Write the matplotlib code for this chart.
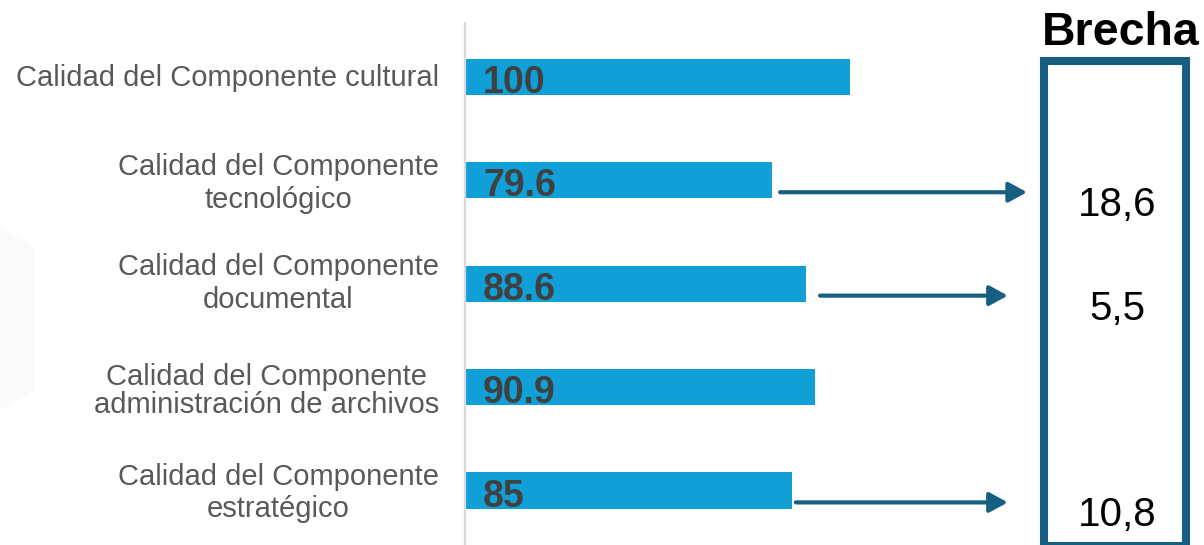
import matplotlib
matplotlib.use("Agg")
import matplotlib.pyplot as plt
from matplotlib.patches import Rectangle, Polygon

plt.rcParams['font.family'] = ['Liberation Sans', 'DejaVu Sans']

# ---- data ----
categories = [
    "Calidad del Componente cultural",
    "Calidad del Componente\ntecnológico",
    "Calidad del Componente\ndocumental",
    "Calidad del Componente\nadministración de archivos",
    "Calidad del Componente\nestratégico",
]
values = [100, 79.6, 88.6, 90.9, 85]
value_labels = ["100", "79.6", "88.6", "90.9", "85"]
gap_title = "Brecha"
gap_index = [1, 2, 4]
gap_labels = ["18,6", "5,5", "10,8"]
gap_arrow_end = [146.1, 141.1, 141.1]

# ---- layout / styles ----
BAR_C = "#109fd6"
DARK = "#175f82"
W, H = 1204, 545
label_right_px = 439
label_baseline_px = [86, 175, 275, 385, 485]
label_line_gap_px = [33, 33, 33, 28, 32]

fig = plt.figure(figsize=(W / 100, H / 100), dpi=100)
fig.patch.set_facecolor("white")

# faint watermark shape
fig.patches.append(Polygon([(0 / W, 1 - 228 / H), (33 / W, 1 - 245 / H), (33 / W, 1 - 390 / H),
                            (0 / W, 1 - 410 / H)], closed=True, transform=fig.transFigure,
                           facecolor="#fafafa", edgecolor="none", zorder=0))

ax_left, ax_top, ax_bottom = 466, 23, 545
px_per_unit = 3.84
ax = fig.add_axes([ax_left / W, 1 - ax_bottom / H, (W - ax_left) / W, (ax_bottom - ax_top) / H])
ax.set_facecolor("none")
ax.set_xlim(0, (W - ax_left) / px_per_unit)
ax.set_ylim(4.527, -0.522)

ypos = list(range(len(values)))
ax.barh(ypos, values, height=0.35, color=BAR_C, zorder=2)

for spine in ["top", "right", "bottom"]:
    ax.spines[spine].set_visible(False)
ax.spines["left"].set_color("#d9d9d9")
ax.spines["left"].set_linewidth(1.6)
ax.spines["left"].set_position(("data", -0.3))
ax.set_xticks([])
ax.set_yticks([])

# value labels inside bars
for y, lab in zip(ypos, value_labels):
    ax.text(4.4, y + 0.155, lab, ha="left", va="baseline", fontsize=27,
            fontweight="bold", color="#404040", zorder=3)

# category labels: block right-aligned, lines centred within the block
renderer = fig.canvas.get_renderer()
for cat, base, gap in zip(categories, label_baseline_px, label_line_gap_px):
    lines = cat.split("\n")
    texts = []
    for k, line in enumerate(lines):
        t = fig.text(0, 1 - (base + k * gap) / H, line, ha="center", va="baseline",
                     fontsize=21, color="#595959")
        texts.append(t)
    widths = [t.get_window_extent(renderer=renderer).width for t in texts]
    cx = label_right_px - max(widths) / 2
    for t in texts:
        t.set_x(cx / W)

# arrows
starts = [values[i] + off for i, off in zip(gap_index, [2.2, 3.6, 0.9])]
for i, xs, xe in zip(gap_index, starts, gap_arrow_end):
    ax.annotate("", xy=(xe, i + 0.115), xytext=(xs, i + 0.115),
                arrowprops=dict(arrowstyle="-|>,head_length=0.55,head_width=0.3",
                                mutation_scale=20, color=DARK, lw=3,
                                shrinkA=0, shrinkB=0), zorder=4)

# gap box
fig.patches.append(Rectangle((1044 / W, 1 - 545.5 / H), (1186 - 1044) / W, (545.5 - 61) / H,
                             transform=fig.transFigure, fill=False, edgecolor=DARK,
                             linewidth=5.8, zorder=5))
fig.text(1121 / W, 1 - 45 / H, gap_title, ha="center", va="baseline", fontsize=33.5,
         fontweight="bold", color="black")

for i, lab in zip(gap_index, gap_labels):
    ax.text((1117 - ax_left) / px_per_unit, i + 0.24, lab, ha="center", va="center",
            fontsize=29, color="black")

fig.savefig("out.png", dpi=100, facecolor="white")
